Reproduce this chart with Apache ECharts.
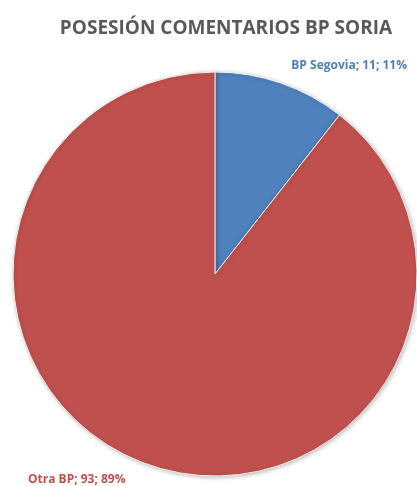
<!DOCTYPE html>
<html><head><meta charset="utf-8">
<script src="https://cdn.jsdelivr.net/npm/echarts@6/dist/echarts.min.js"></script>
<style>html,body{margin:0;padding:0;background:#fff}#c{width:417px;height:486px}</style>
</head><body><div id="c"></div>
<script>
const title = 'POSESIÓN COMENTARIOS BP SORIA';
const categories = ['BP Segovia', 'Otra BP'];
const values = [11, 93];
const colors = ['#4F81BD', '#C0504D'];
const labelColors = ['#4F7DB8', '#C0504D'];

const chart = echarts.init(document.getElementById('c'), null, {renderer: 'canvas'});
const total = values.reduce((a, b) => a + b, 0);
chart.setOption({
  backgroundColor: '#fff',
  title: {
    text: title, left: 221, top: 14, textAlign: 'center',
    textStyle: {fontFamily: 'Open Sans', fontWeight: 'bold', fontSize: 19, color: '#595959'}
  },
  series: [{
    type: 'pie',
    center: [215, 274],
    radius: 202,
    startAngle: 90,
    clockwise: true,
    animation: false,
    data: categories.map((c, i) => ({
      name: c, value: values[i],
      itemStyle: {color: colors[i]},
      label: {color: labelColors[i]}
    })),
    itemStyle: {borderColor: '#f2f2f2', borderWidth: 1, shadowBlur: 4, shadowColor: 'rgba(0,0,0,0.25)', shadowOffsetX: 1, shadowOffsetY: 1},
    label: {
      show: true, position: 'outside', overflow: 'none', width: 200,
      fontFamily: 'Open Sans', fontWeight: 'bold', fontSize: 12,
      formatter: p => p.name + '; ' + p.value + '; ' + Math.round(p.value / total * 100) + '%'
    },
    labelLine: {show: false},
    labelLayout: p => p.dataIndex === 0
      ? {x: 407, y: 66, align: 'right', verticalAlign: 'middle'}
      : {x: 28, y: 480, align: 'left', verticalAlign: 'middle'}
  }]
});
</script></body></html>
